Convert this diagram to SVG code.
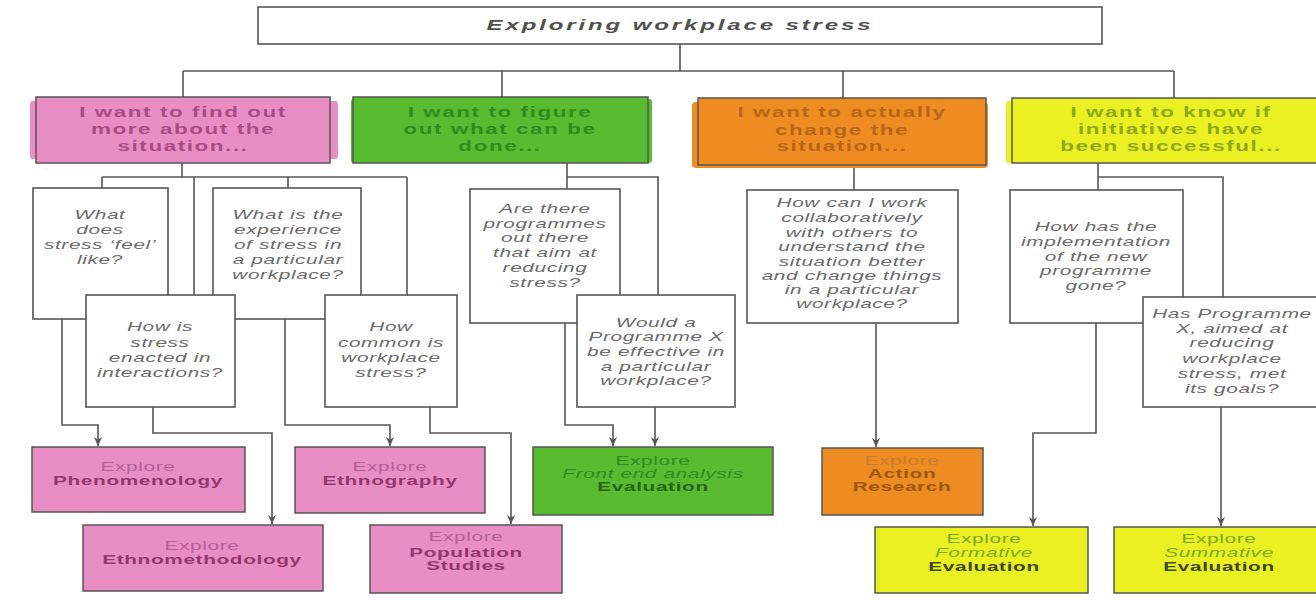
<svg xmlns="http://www.w3.org/2000/svg" width="1316" height="607" viewBox="0 0 1316 607">
<defs>
<style>
text{font-family:"Liberation Sans",Arial,Helvetica,sans-serif;text-anchor:middle}
.title{font-size:15px;font-weight:bold;font-style:italic;fill:#505050;letter-spacing:1.8px}
.h{font-size:14px;font-weight:bold;letter-spacing:1px}
.q{font-size:13px;font-style:italic;fill:#6a6a6a;letter-spacing:0.4px}
.ex{font-size:13px;letter-spacing:0.4px}
.b{font-weight:bold}
.i{font-style:italic}
.box{fill:#fff;stroke:#555;stroke-width:1.6}
.frame{stroke:#555;stroke-width:1.5}
.spill{stroke:none}
.conn path{fill:none;stroke:#555;stroke-width:1.6}
.pinkF{fill:#e98ec5}.greenF{fill:#58bb30}.orangeF{fill:#ee8c22}.yellowF{fill:#eaf021}
.pinkT{fill:#a84c86}.greenT{fill:#2f8a20}.orangeT{fill:#b8651a}.yellowT{fill:#8ea81a}
.pinkL{fill:#b4609a}.pinkD{fill:#93386f}
.greenL{fill:#2e8a22}.greenD{fill:#266616}
.orangeL{fill:#c87c30}.orangeD{fill:#9c560e}
.yellowL{fill:#79aa22}.yellowD{fill:#3d4812}
</style>
<marker id="arr" viewBox="0 0 10 10" refX="10" refY="5" markerWidth="9" markerHeight="10" markerUnits="userSpaceOnUse" orient="auto">
<path d="M0,0.5 L10,5 L0,9.5 L3,5 Z" fill="#555"/>
</marker>
</defs>
<rect width="1316" height="607" fill="#fff"/>

<g class="conn" id="connectors">
<path d="M680,44 V71"/>
<path d="M183,71 H1174"/>
<path d="M183,71 V97"/>
<path d="M502,71 V97"/>
<path d="M843,71 V98"/>
<path d="M1174,71 V98"/>
<path d="M182,163 V177"/>
<path d="M102,177 H407"/>
<path d="M102,177 V188"/>
<path d="M194,177 V295"/>
<path d="M288,177 V188"/>
<path d="M407,177 V295"/>
<path d="M62,319 V425 H98 V446" marker-end="url(#arr)"/>
<path d="M153,407 V433 H272 V524" marker-end="url(#arr)"/>
<path d="M285,319 V425 H390 V446" marker-end="url(#arr)"/>
<path d="M430,407 V433 H511 V524" marker-end="url(#arr)"/>
<path d="M567,163 V189"/>
<path d="M567,177 H658 V295"/>
<path d="M565,323 V425 H613 V446" marker-end="url(#arr)"/>
<path d="M655,407 V446" marker-end="url(#arr)"/>
<path d="M854,165 V190"/>
<path d="M876,323 V447" marker-end="url(#arr)"/>
<path d="M1098,163 V190"/>
<path d="M1098,177 H1223 V297"/>
<path d="M1096,323 V433 H1033 V526" marker-end="url(#arr)"/>
<path d="M1221,407 V526" marker-end="url(#arr)"/>
</g>

<g id="title">
<rect class="box" x="258" y="7" width="844" height="37" stroke="#666"/>
<text class="title" transform="translate(680 0) scale(1.6 1)" x="0" y="30">Exploring workplace stress</text>
</g>

<g id="goal-find-out">
<rect class="spill pinkF" x="30" y="101" width="308" height="58" rx="3"/>
<rect class="frame pinkF" x="36" y="97" width="294" height="66"/>
<text class="h pinkT" transform="translate(183 0) scale(1.6 1)"><tspan x="0" y="117">I want to find out</tspan><tspan x="0" y="134">more about the</tspan><tspan x="0" y="151">situation...</tspan></text>
</g>

<g id="goal-figure-out">
<rect class="spill greenF" x="351" y="99" width="301" height="64" rx="3"/>
<rect class="frame greenF" x="353" y="97" width="295" height="66"/>
<text class="h greenT" transform="translate(500 0) scale(1.6 1)"><tspan x="0" y="117">I want to figure</tspan><tspan x="0" y="134">out what can be</tspan><tspan x="0" y="151">done...</tspan></text>
</g>

<g id="goal-change">
<rect class="spill orangeF" x="692" y="102" width="296" height="66" rx="4"/>
<rect class="frame orangeF" x="698" y="98" width="288" height="67"/>
<text class="h orangeT" transform="translate(842 0) scale(1.6 1)"><tspan x="0" y="117">I want to actually</tspan><tspan x="0" y="135">change the</tspan><tspan x="0" y="151">situation...</tspan></text>
</g>

<g id="goal-know">
<rect class="spill yellowF" x="1006" y="101" width="316" height="62" rx="3"/>
<rect class="frame yellowF" x="1012" y="98" width="312" height="65"/>
<text class="h yellowT" transform="translate(1171 0) scale(1.6 1)"><tspan x="0" y="117">I want to know if</tspan><tspan x="0" y="134">initiatives have</tspan><tspan x="0" y="151">been successful...</tspan></text>
</g>

<g id="q-feel">
<rect class="box" x="33" y="188" width="135" height="131"/>
<text class="q" transform="translate(100 0) scale(1.6 1)"><tspan x="0" y="219">What</tspan><tspan x="0" y="234">does</tspan><tspan x="0" y="249">stress ‘feel’</tspan><tspan x="0" y="264">like?</tspan></text>
</g>

<g id="q-experience">
<rect class="box" x="213" y="188" width="148" height="131"/>
<text class="q" transform="translate(288 0) scale(1.6 1)"><tspan x="0" y="219">What is the</tspan><tspan x="0" y="234">experience</tspan><tspan x="0" y="249">of stress in</tspan><tspan x="0" y="264">a particular</tspan><tspan x="0" y="279">workplace?</tspan></text>
</g>

<g id="q-enacted">
<rect class="box" x="86" y="295" width="149" height="112"/>
<text class="q" transform="translate(160 0) scale(1.6 1)"><tspan x="0" y="331">How is</tspan><tspan x="0" y="347">stress</tspan><tspan x="0" y="362">enacted in</tspan><tspan x="0" y="377">interactions?</tspan></text>
</g>

<g id="q-common">
<rect class="box" x="325" y="295" width="132" height="112"/>
<text class="q" transform="translate(391 0) scale(1.6 1)"><tspan x="0" y="331">How</tspan><tspan x="0" y="347">common is</tspan><tspan x="0" y="362">workplace</tspan><tspan x="0" y="377">stress?</tspan></text>
</g>

<g id="q-programmes">
<rect class="box" x="470" y="189" width="150" height="134"/>
<text class="q" transform="translate(545 0) scale(1.6 1)"><tspan x="0" y="213">Are there</tspan><tspan x="0" y="228">programmes</tspan><tspan x="0" y="242">out there</tspan><tspan x="0" y="257">that aim at</tspan><tspan x="0" y="272">reducing</tspan><tspan x="0" y="287">stress?</tspan></text>
</g>

<g id="q-effective">
<rect class="box" x="577" y="295" width="158" height="112"/>
<text class="q" transform="translate(656 0) scale(1.6 1)"><tspan x="0" y="327">Would a</tspan><tspan x="0" y="341">Programme X</tspan><tspan x="0" y="356">be effective in</tspan><tspan x="0" y="371">a particular</tspan><tspan x="0" y="385">workplace?</tspan></text>
</g>

<g id="q-collaborate">
<rect class="box" x="747" y="190" width="211" height="133"/>
<text class="q" transform="translate(852 0) scale(1.6 1)"><tspan x="0" y="207">How can I work</tspan><tspan x="0" y="222">collaboratively</tspan><tspan x="0" y="237">with others to</tspan><tspan x="0" y="251">understand the</tspan><tspan x="0" y="266">situation better</tspan><tspan x="0" y="280">and change things</tspan><tspan x="0" y="294">in a particular</tspan><tspan x="0" y="308">workplace?</tspan></text>
</g>

<g id="q-implementation">
<rect class="box" x="1010" y="190" width="173" height="133"/>
<text class="q" transform="translate(1096 0) scale(1.6 1)"><tspan x="0" y="231">How has the</tspan><tspan x="0" y="246">implementation</tspan><tspan x="0" y="261">of the new</tspan><tspan x="0" y="275">programme</tspan><tspan x="0" y="290">gone?</tspan></text>
</g>

<g id="q-goals">
<rect class="box" x="1143" y="297" width="180" height="110"/>
<text class="q" transform="translate(1232 0) scale(1.6 1)"><tspan x="0" y="318">Has Programme</tspan><tspan x="0" y="333">X, aimed at</tspan><tspan x="0" y="347">reducing</tspan><tspan x="0" y="363">workplace</tspan><tspan x="0" y="378">stress, met</tspan><tspan x="0" y="393">its goals?</tspan></text>
</g>

<g id="m-phenomenology">
<rect class="frame pinkF" x="32" y="447" width="213" height="65"/>
<text class="ex" transform="translate(138 0) scale(1.6 1)"><tspan class="pinkL" x="0" y="471">Explore</tspan><tspan class="b pinkD" x="0" y="485">Phenomenology</tspan></text>
</g>

<g id="m-ethnomethodology">
<rect class="frame pinkF" x="83" y="525" width="240" height="66"/>
<text class="ex" transform="translate(202 0) scale(1.6 1)"><tspan class="pinkL" x="0" y="550">Explore</tspan><tspan class="b pinkD" x="0" y="564">Ethnomethodology</tspan></text>
</g>

<g id="m-ethnography">
<rect class="frame pinkF" x="295" y="447" width="190" height="66"/>
<text class="ex" transform="translate(390 0) scale(1.6 1)"><tspan class="pinkL" x="0" y="471">Explore</tspan><tspan class="b pinkD" x="0" y="485">Ethnography</tspan></text>
</g>

<g id="m-population">
<rect class="frame pinkF" x="370" y="525" width="192" height="68"/>
<text class="ex" transform="translate(466 0) scale(1.6 1)"><tspan class="pinkL" x="0" y="541">Explore</tspan><tspan class="b pinkD" x="0" y="557">Population</tspan><tspan class="b pinkD" x="0" y="570">Studies</tspan></text>
</g>

<g id="m-front-end">
<rect class="frame greenF" x="533" y="447" width="240" height="68"/>
<text class="ex" transform="translate(653 0) scale(1.6 1)"><tspan class="greenL" x="0" y="465">Explore</tspan><tspan class="i greenL" x="0" y="478">Front end analysis</tspan><tspan class="b greenD" x="0" y="491">Evaluation</tspan></text>
</g>

<g id="m-action-research">
<rect class="frame orangeF" x="822" y="448" width="161" height="67"/>
<text class="ex" transform="translate(902 0) scale(1.6 1)"><tspan class="orangeL" x="0" y="465">Explore</tspan><tspan class="b orangeD" x="0" y="478">Action</tspan><tspan class="b orangeD" x="0" y="491">Research</tspan></text>
</g>

<g id="m-formative">
<rect class="frame yellowF" x="875" y="527" width="213" height="66"/>
<text class="ex" transform="translate(984 0) scale(1.6 1)"><tspan class="yellowL" x="0" y="543">Explore</tspan><tspan class="i yellowL" x="0" y="557">Formative</tspan><tspan class="b yellowD" x="0" y="571">Evaluation</tspan></text>
</g>

<g id="m-summative">
<rect class="frame yellowF" x="1114" y="527" width="210" height="66"/>
<text class="ex" transform="translate(1219 0) scale(1.6 1)"><tspan class="yellowL" x="0" y="543">Explore</tspan><tspan class="i yellowL" x="0" y="557">Summative</tspan><tspan class="b yellowD" x="0" y="571">Evaluation</tspan></text>
</g>
</svg>
